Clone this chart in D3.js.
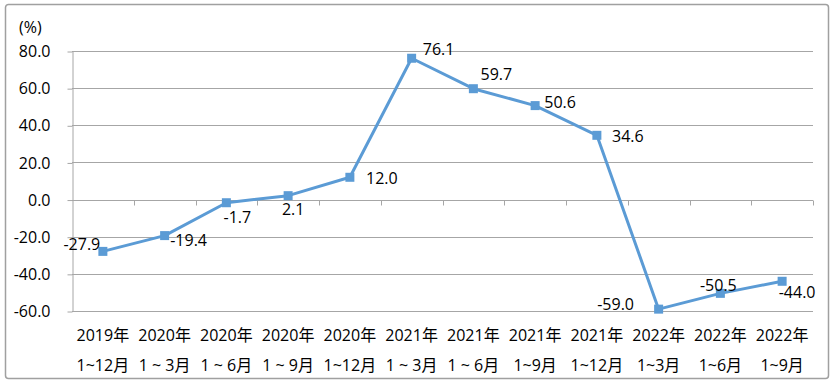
<!DOCTYPE html>
<html>
<head>
<meta charset="utf-8">
<script src="https://cdn.jsdelivr.net/npm/d3@7"></script>
<style>
  body { margin: 0; background: #fff; }
  svg text { font-family: "Open Sans", "Noto Sans CJK SC", sans-serif; fill: #000; }
</style>
</head>
<body>
<svg id="chart" width="839" height="389"></svg>
<script>
// MARK: Data.

const years   = ['2019年', '2020年', '2020年', '2020年', '2020年', '2021年', '2021年', '2021年', '2021年', '2022年', '2022年', '2022年']
const periods = ['1~12月', '1 ~ 3月', '1 ~ 6月', '1 ~ 9月', '1~12月', '1 ~ 3月', '1 ~ 6月', '1~9月', '1~12月', '1~3月', '1~6月', '1~9月']
const values  = [-27.9, -19.4, -1.7, 2.1, 12.0, 76.1, 59.7, 50.6, 34.6, -59.0, -50.5, -44.0]
const yTicks  = [-60, -40, -20, 0, 20, 40, 60, 80]

// Label offsets (center of text relative to point).
const labelDx = [-21, 24, 11, 5, 32, 27, 23, 25, 31, -43, -2, 15]
const labelDy = [-7, 5, 15, 14, 1, -9, -14, -3, 1, -5, -8, 11]

// MARK: Layout.

const svg        = d3.select('#chart')
const plotLeft   = 72
const plotRight  = 813
const plotTop    = 51
const plotBottom = 311
const FONT_SIZE  = 16
const FONT       = '"Open Sans", "Noto Sans CJK SC", sans-serif'
const LINE       = '#5b9bd5'
const GRID       = '#a6a6a6'
const fmt        = (d) => d.toFixed(1)

// Outer frame.
svg.append('rect')
  .attr('x', 5.5).attr('y', 4.5)
  .attr('width', 823).attr('height', 374)
  .attr('rx', 3)
  .attr('fill', 'none')
  .attr('stroke', '#a0a0a0')
  .attr('stroke-width', 1.5)

const keys = values.map((_, i) => i)
const x = d3.scaleBand().domain(keys).range([plotLeft, plotRight])
const y = d3.scaleLinear().domain([-60, 80]).range([plotBottom, plotTop])

// Gridlines.
svg.append('g')
  .selectAll('line')
  .data(yTicks).enter()
  .append('line')
  .attr('x1', plotLeft).attr('x2', plotRight)
  .attr('y1', (d) => Math.round(y(d)) + 0.5)
  .attr('y2', (d) => Math.round(y(d)) + 0.5)
  .attr('stroke', GRID)
  .attr('stroke-width', 1)

// Y axis.
const yAxis = svg.append('g')
  .attr('transform', `translate(${plotLeft + 0.5},0.5)`)
  .call(d3.axisLeft(y).tickValues(yTicks).tickSize(5).tickSizeOuter(0).tickPadding(17)
    .tickFormat(fmt))
yAxis.select('.domain').attr('stroke', GRID)
yAxis.selectAll('.tick line').attr('stroke', GRID)
yAxis.selectAll('.tick text')
  .attr('font-size', FONT_SIZE)
  .attr('fill', '#000')
  .attr('font-family', FONT)

// X axis at zero, ticks at band boundaries.
const zeroY = Math.round(y(0)) + 0.5
svg.append('g')
  .selectAll('line')
  .data(keys.slice(1).concat([keys.length])).enter()
  .append('line')
  .attr('x1', (d) => Math.round(plotLeft + d * x.bandwidth()) + 0.5)
  .attr('x2', (d) => Math.round(plotLeft + d * x.bandwidth()) + 0.5)
  .attr('y1', zeroY).attr('y2', zeroY + 5)
  .attr('stroke', GRID)

// Unit label.
svg.append('text')
  .attr('x', 19).attr('y', 33)
  .attr('font-size', FONT_SIZE)
  .text('(%)')

// Category labels.
const cats = svg.append('g')
cats.selectAll('text.year')
  .data(years).enter()
  .append('text')
  .attr('class', 'year')
  .attr('x', (d, i) => x(i) + x.bandwidth() / 2)
  .attr('y', 341)
  .attr('text-anchor', 'middle')
  .attr('font-size', FONT_SIZE)
  .text((d) => d)
cats.selectAll('text.period')
  .data(periods).enter()
  .append('text')
  .attr('class', 'period')
  .attr('x', (d, i) => x(i) + x.bandwidth() / 2)
  .attr('y', 371)
  .attr('text-anchor', 'middle')
  .attr('font-size', FONT_SIZE)
  .style('white-space', 'pre')
  .text((d) => d)

// Line.
const cx = (i) => x(i) + x.bandwidth() / 2
const line = d3.line()
  .x((d, i) => cx(i))
  .y((d) => y(d))
svg.append('path')
  .datum(values)
  .attr('d', line)
  .attr('fill', 'none')
  .attr('stroke', LINE)
  .attr('stroke-width', 3)
  .attr('stroke-linejoin', 'round')

// Markers.
svg.append('g')
  .selectAll('rect')
  .data(values).enter()
  .append('rect')
  .attr('x', (d, i) => cx(i) - 4.5)
  .attr('y', (d) => y(d) - 4.5)
  .attr('width', 9).attr('height', 9)
  .attr('fill', LINE)

// Data labels.
svg.append('g')
  .selectAll('text')
  .data(values).enter()
  .append('text')
  .attr('x', (d, i) => cx(i) + labelDx[i])
  .attr('y', (d, i) => y(d) + labelDy[i])
  .attr('dy', '0.35em')
  .attr('text-anchor', 'middle')
  .attr('font-size', FONT_SIZE)
  .text(fmt)
</script>
</body>
</html>
